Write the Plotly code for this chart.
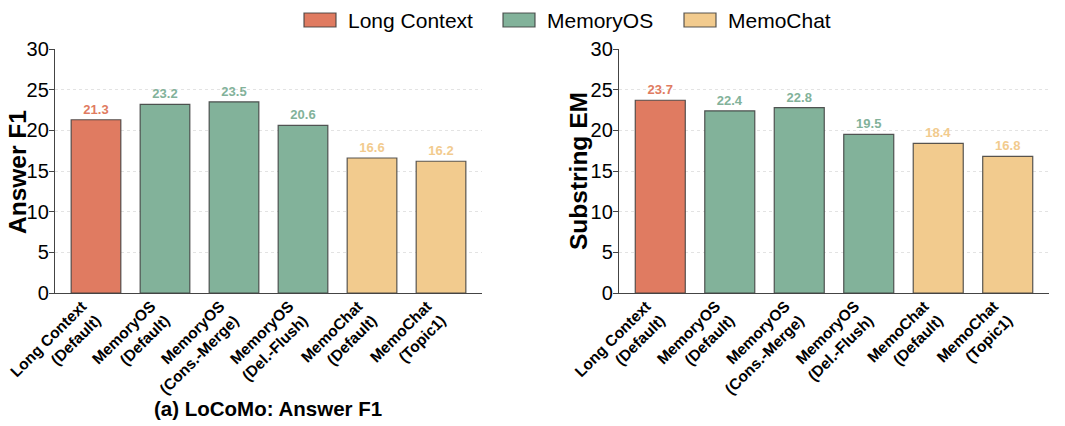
import plotly.graph_objects as go

# LoCoMo results
labels = ["Long Context<br>(Default)", "MemoryOS<br>(Default)", "MemoryOS<br>(Cons.-Merge)",
          "MemoryOS<br>(Del.-Flush)", "MemoChat<br>(Default)", "MemoChat<br>(Topic1)"]
groups = ["Long Context", "MemoryOS", "MemoryOS", "MemoryOS", "MemoChat", "MemoChat"]
answer_f1 = [21.3, 23.2, 23.5, 20.6, 16.6, 16.2]
substring_em = [23.7, 22.4, 22.8, 19.5, 18.4, 16.8]
y_ticks = [0, 5, 10, 15, 20, 25, 30]

colors = {"Long Context": "#E07B61", "MemoryOS": "#82B29A", "MemoChat": "#F2CB8E"}
font_fam = "Liberation Sans, Arial, sans-serif"
edge = "rgba(60,60,60,0.85)"

W, H = 1065, 426


def fx(px):
    return px / W


def fy(py):
    return 1 - py / H


fig = go.Figure()

for values, xa, ya in [(answer_f1, "x", "y"), (substring_em, "x2", "y2")]:
    for g in colors:
        idx = [i for i in range(len(labels)) if groups[i] == g]
        fig.add_trace(go.Bar(
            x=idx,
            y=[values[i] for i in idx],
            name=g,
            showlegend=False,
            xaxis=xa, yaxis=ya,
            width=0.72,
            marker=dict(color=colors[g], line=dict(color=edge, width=1.2)),
            text=[f"{values[i]:.1f}" for i in idx],
            textposition="outside",
            cliponaxis=False,
            textfont=dict(family=font_fam, size=13, color=colors[g], weight="bold"),
        ))

xaxis_style = dict(
    tickmode="array",
    tickvals=list(range(len(labels))),
    ticktext=labels,
    tickangle=-45,
    tickfont=dict(family=font_fam, size=15.5, color="black", weight="bold"),
    ticklabelshift=-14,
    ticklabelstandoff=-3,
    range=[-0.594, 5.594],
    showline=True, linecolor="#444", linewidth=1.3,
    showgrid=False, zeroline=False, ticks="",
    automargin=False,
)
yaxis_style = dict(
    range=[0, 30],
    tickvals=y_ticks,
    tickfont=dict(family=font_fam, size=20, color="black"),
    ticklabelstandoff=-4,
    showline=True, linecolor="#444", linewidth=1.3,
    ticks="outside", ticklen=5, tickcolor="#444",
    showgrid=True, gridcolor="#E3E3E3", griddash="dot", gridwidth=1,
    zeroline=False,
    automargin=False,
)

# legend drawn by hand: wide swatches like the original
legend_items = ["Long Context", "MemoryOS", "MemoChat"]
legend_x = [304, 503, 684]
shapes = []
annotations = []
for name, px in zip(legend_items, legend_x):
    shapes.append(dict(type="rect", xref="paper", yref="paper",
                       x0=fx(px), x1=fx(px + 32),
                       y0=fy(27), y1=fy(13),
                       fillcolor=colors[name], line=dict(color=edge, width=1.2)))
    annotations.append(dict(text=name, x=fx(px + 42), y=fy(20),
                            xref="paper", yref="paper", showarrow=False,
                            xanchor="left", yanchor="middle",
                            font=dict(family=font_fam, size=21, color="black")))

annotations += [
    dict(text="Answer F1", x=fx(17), y=fy(172), xref="paper", yref="paper",
         textangle=-90, showarrow=False, xanchor="center", yanchor="middle",
         font=dict(family=font_fam, size=24.5, color="black", weight="bold")),
    dict(text="Substring EM", x=fx(578), y=fy(171), xref="paper", yref="paper",
         textangle=-90, showarrow=False, xanchor="center", yanchor="middle",
         font=dict(family=font_fam, size=24.5, color="black", weight="bold")),
    dict(text="(a) LoCoMo: Answer F1", x=fx(268), y=fy(408), xref="paper", yref="paper",
         showarrow=False, xanchor="center", yanchor="middle",
         font=dict(family=font_fam, size=20.5, color="black", weight="bold")),
]

fig.update_layout(
    width=W, height=H,
    margin=dict(l=0, r=0, t=0, b=0),
    plot_bgcolor="white", paper_bgcolor="white",
    barmode="overlay",
    showlegend=False,
    xaxis=dict(domain=[fx(55), fx(482)], anchor="y", **xaxis_style),
    yaxis=dict(domain=[fy(293), fy(49)], anchor="x", **yaxis_style),
    xaxis2=dict(domain=[fx(619), fx(1049)], anchor="y2", **xaxis_style),
    yaxis2=dict(domain=[fy(293), fy(49)], anchor="x2", **yaxis_style),
    shapes=shapes,
    annotations=annotations,
)

# drop the default page margin so the figure fills the window
fig.write_html("out.html", config={"displayModeBar": False},
               post_script="document.body.style.margin='0';")
